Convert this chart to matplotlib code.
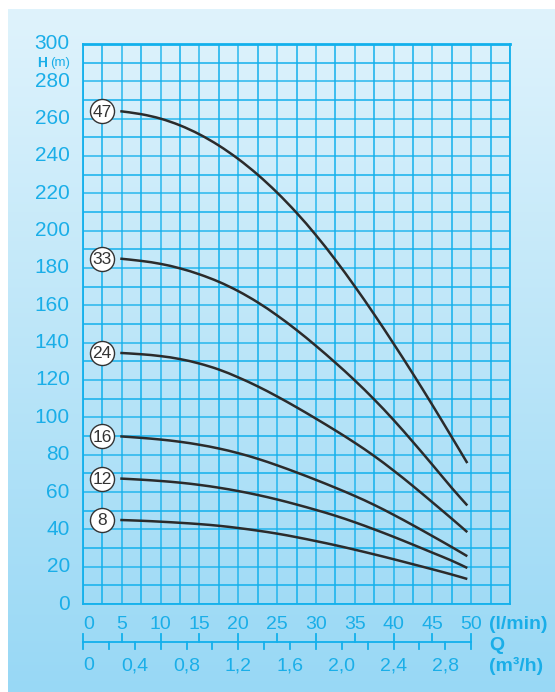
import numpy as np
import matplotlib
matplotlib.use("Agg")
import matplotlib.pyplot as plt
from matplotlib.path import Path
from matplotlib.patches import PathPatch

# flow (l/min) at which the curves were read
q_lmin = [4.8, 7.5, 10, 12.5, 15, 17.5, 20, 22.5, 25, 27.5, 30, 32.5, 35, 37.5, 40, 42.5, 45, 47.5, 49.5]

# head (m) for each stage count
h_47 = [264, 262.4, 260.0, 256.4, 251.6, 245.6, 238.4, 230.0, 220.4, 209.6, 197.6, 184.4, 170.2, 155.2, 139.5, 123.3, 106.6, 89.4, 75.5]
h_33 = [185, 183.8, 182.2, 179.8, 176.6, 172.6, 167.6, 161.6, 154.6, 146.8, 138.3, 129.3, 119.8, 109.6, 98.6, 86.8, 74.6, 62.2, 52.8]
h_24 = [134.5, 133.8, 132.8, 131.2, 128.8, 125.6, 121.4, 116.6, 111.2, 105.4, 99.3, 93.0, 86.4, 79.3, 71.5, 63.2, 54.5, 45.7, 38.5]
h_16 = [89.8, 89.0, 88.1, 86.9, 85.3, 83.3, 80.8, 77.8, 74.3, 70.5, 66.5, 62.3, 57.9, 53.1, 47.8, 42.2, 36.4, 30.5, 25.6]
h_12 = [67.2, 66.6, 65.9, 65.0, 63.8, 62.3, 60.5, 58.4, 56.0, 53.3, 50.4, 47.3, 43.8, 40.0, 36.0, 31.8, 27.5, 23.2, 19.3]
h_8 = [45.0, 44.6, 44.1, 43.5, 42.8, 41.9, 40.7, 39.3, 37.7, 35.8, 33.7, 31.5, 29.1, 26.6, 24.0, 21.3, 18.6, 15.8, 13.4]

curves = {"47": h_47, "33": h_33, "24": h_24, "16": h_16, "12": h_12, "8": h_8}

y_ticks = list(range(0, 301, 20))
lmin_ticks = [0, 5, 10, 15, 20, 25, 30, 35, 40, 45, 50]
m3h_labels = [0, 0.4, 0.8, 1.2, 1.6, 2.0, 2.4, 2.8]
m3h_ticks = [0, 0.2, 0.4, 0.6, 0.8, 1.0, 1.2, 1.4, 1.6, 1.8, 2.0, 2.2, 2.4, 2.6, 2.8, 3.0]

BLUE = "#12b0ec"
TXT = "#1aaee8"
FONT = "Liberation Sans"


def smooth_path(xs, ys):
    # bezier path through the read points (catmull-rom style handles)
    p = np.column_stack([xs, ys]).astype(float)
    verts = [p[0]]
    codes = [Path.MOVETO]
    n = len(p)
    for i in range(n - 1):
        p0 = p[i - 1] if i > 0 else p[i]
        p3 = p[i + 2] if i + 2 < n else p[i + 1]
        c1 = p[i] + (p[i + 1] - p0) / 6
        c2 = p[i + 1] - (p3 - p[i]) / 6
        verts += [c1, c2, p[i + 1]]
        codes += [Path.CURVE4] * 3
    return Path(verts, codes)


W, H = 555, 692
fig = plt.figure(figsize=(W / 100, H / 100), dpi=100)

# gradient background panel (white strip at top and left)
bg = fig.add_axes([8 / W, 0, (W - 8) / W, (H - 9) / H])
bg.axis("off")
top = np.array([0xdf, 0xf3, 0xfc]) / 255
bot = np.array([0x98, 0xd8, 0xf5]) / 255
t = np.linspace(0, 1, 256)[:, None]
grad = top[None, :] * (1 - t) + bot[None, :] * t
bg.imshow(grad[:, None, :], aspect="auto", extent=[0, 1, 0, 1])

ax = fig.add_axes([83 / W, 88 / H, 427 / W, 560 / H])
ax.set_facecolor("none")
ax.set_xlim(0, 55)
ax.set_ylim(0, 300)

# grid
for i, x in enumerate(np.arange(0, 55.01, 2.5)):
    ax.axvline(x, color=BLUE, lw=1.1 if i % 2 else 1.3, alpha=1 if i % 2 else 0.75, zorder=1)
for i, y in enumerate(np.arange(0, 300.01, 10)):
    ax.axhline(y, color=BLUE, lw=1.1 if i % 2 else 1.3, alpha=1 if i % 2 else 0.75, zorder=1)

for s in ax.spines.values():
    s.set_color(BLUE)
    s.set_linewidth(1.3)
ax.spines["top"].set_linewidth(2)
ax.set_xticks([])
ax.set_yticks([])

# y labels
for v in y_ticks:
    ax.text(-1.7, v, str(v), ha="right", va="center", fontsize=15, color=TXT,
            family=FONT, clip_on=False)
ax.text(-4.6, 290, "H", ha="right", va="center", fontsize=10, color=TXT,
        family=FONT, fontweight="bold", clip_on=False)
ax.text(-1.7, 290, "(m)", ha="right", va="center", fontsize=9.5, color=TXT,
        family=FONT, clip_on=False)

# curves and stage labels
for name, h in curves.items():
    ax.add_patch(PathPatch(smooth_path(q_lmin, h), facecolor="none",
                           edgecolor="#2b2b2b", lw=1.8, zorder=3, capstyle="butt"))
    ax.scatter([2.45], [h[0]], s=300, facecolor="white", edgecolor="#333333",
               lw=1.0, zorder=4)
    ax.text(2.45, h[0] - 0.5, name, ha="center", va="center", fontsize=12.5,
            color="#333333", family=FONT, zorder=5)

# bottom double scale
y_line = -20.4
ax.plot([0, 50], [y_line, y_line], color=BLUE, lw=1.3, clip_on=False)
for v in lmin_ticks:
    ax.plot([v, v], [y_line, y_line + 4.5], color=BLUE, lw=1.3, clip_on=False)
    ax.text(v, -11.2, str(v), ha="left" if v == 0 else "center", va="center",
            fontsize=14, color=TXT, family=FONT, clip_on=False)
for v in m3h_ticks:
    x = v * 1000 / 60
    ax.plot([x, x], [y_line, y_line - 3.5], color=BLUE, lw=1.3, clip_on=False)
for v in m3h_labels:
    x = v * 1000 / 60
    lab = ("%.1f" % v).replace(".", ",") if v else "0"
    ax.text(x, -33.2, lab, ha="left" if v == 0 else "center",
            va="center", fontsize=14, color=TXT, family=FONT, clip_on=False)

ax.text(52.3, -11.2, "(l/min)", ha="left", va="center", fontsize=14, color=TXT,
        family=FONT, fontweight="bold", clip_on=False)
ax.text(52.3, -22.5, "Q", ha="left", va="center", fontsize=14, color=TXT,
        family=FONT, fontweight="bold", clip_on=False)
ax.text(52.3, -33.2, "(m³/h)", ha="left", va="center", fontsize=14, color=TXT,
        family=FONT, fontweight="bold", clip_on=False)

fig.savefig("out.png", dpi=100)
